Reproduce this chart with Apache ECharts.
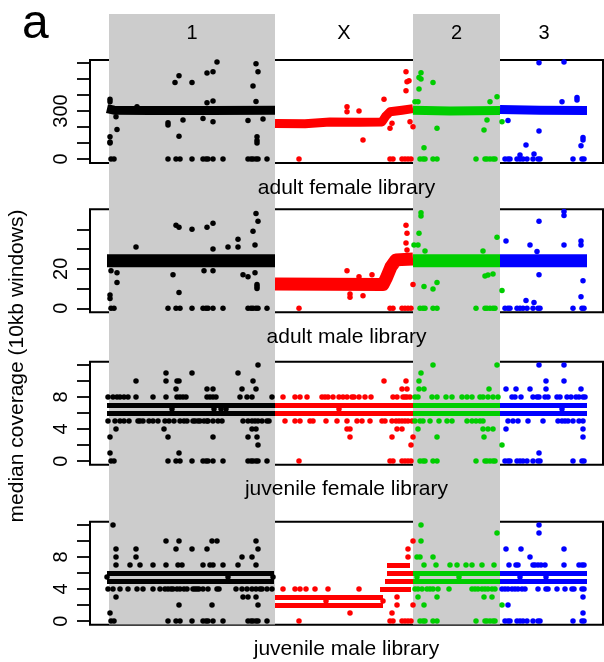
<!DOCTYPE html>
<html>
<head>
<meta charset="utf-8">
<script src="https://cdn.jsdelivr.net/npm/echarts@6/dist/echarts.min.js"></script>
<style>
html, body { margin: 0; padding: 0; background: #fff; }
#chart { width: 604px; height: 662px; }
</style>
</head>
<body>
<div id="chart"></div>
<script>
// chromosomes along the concatenated genome (window index)
var chromNames = ['1', 'X', '2', '3'];
var chromStart = [19, 185, 323, 410];
var chromEnd = [185, 323, 410, 498];
var chromShaded = [true, false, true, false];

var libraries = ['adult female library', 'adult male library', 'juvenile female library', 'juvenile male library'];
var yMin = [-25, -2.03, -0.45, -0.45];
var yMax = [619, 50.1, 12.41, 12.41];
var yTicks = [[0, 100, 200, 300, 400, 500, 600], [0, 10, 20, 30, 40], [0, 2, 4, 6, 8, 10, 12], [0, 2, 4, 6, 8, 10, 12]];
var yLabels = [[0, 300], [0, 20], [0, 4, 8], [0, 4, 8]];

// windows with zero coverage (same in every library)
var zero1 = [21, 24, 78, 86, 90, 102, 113, 116, 118, 123, 133, 158, 161, 163, 166, 168, 177];
var zeroX = [209, 300, 303, 312, 315, 318, 321];
var zero2 = [330, 333, 335, 343, 347, 386, 395, 397, 400, 403, 405];
var zero3 = [415, 418, 420, 427, 430, 433, 437, 443, 448, 450, 483, 492, 494];

// adult female: bulk band + outliers
var af1Band = [[17, 315], [24, 305], [60, 303], [120, 303], [185, 305]];
var af1Pts = [[20, 373], [20, 358], [20, 139], [20, 106], [20, 100], [27, 185], [26, 264], [47, 327], [85, 479], [89, 520], [102, 479], [117, 537], [123, 545], [127, 606], [166, 596], [168, 545], [163, 456], [166, 360], [117, 352], [123, 362], [78, 227], [78, 212], [89, 142], [93, 244], [113, 254], [123, 233], [158, 240], [167, 139], [167, 116], [167, 100], [173, 250]];
var afXBand = [[185, 222], [215, 220], [240, 232], [270, 230], [292, 232], [296, 270], [300, 295], [312, 305], [323, 315]];
var afXPts = [[316, 545], [317, 483], [316, 427], [319, 490], [294, 373], [257, 327], [257, 296], [269, 300], [273, 119], [300, 192], [302, 223], [320, 233], [323, 202]];
var af2Band = [[323, 305], [360, 300], [410, 303]];
var af2Pts = [[331, 540], [329, 510], [331, 500], [329, 437], [343, 479], [325, 358], [328, 358], [400, 358], [407, 389], [347, 192], [394, 181], [397, 244], [412, 233], [334, 71]];
var af3Band = [[410, 310], [450, 305], [497, 303]];
var af3Pts = [[449, 602], [474, 606], [449, 175], [436, 88], [418, 240], [472, 358], [487, 385], [487, 369], [493, 135], [493, 119], [491, 83], [430, 25], [444, 31]];

// adult male
var am1Band = [[17, 24], [185, 24]];
var am1Pts = [[20, 6.7], [20, 5], [27, 13], [27, 18], [21, 19], [46, 31], [86, 42], [89, 41], [102, 40], [117, 41], [123, 43], [166, 48], [168, 44], [163, 39], [165, 32], [148, 35], [148, 31], [138, 31], [123, 30], [83, 17], [89, 8], [114, 19], [123, 19], [153, 17], [158, 16], [167, 12], [167, 11], [167, 10], [165, 18]];
var amXBand = [[185, 12.3], [293, 12], [296, 15], [301, 21], [306, 24.5], [323, 25]];
var amXPts = [[316, 42], [317, 38], [316, 33], [317, 29.5], [257, 19], [282, 17], [269, 16], [260, 7.2], [260, 5.6], [273, 6.4], [323, 12]];
var am2Band = [[323, 24], [410, 24]];
var am2Pts = [[331, 48.4], [331, 46.7], [329, 38], [324, 32], [328, 32], [335, 29], [407, 36], [393, 29], [334, 11], [343, 9.8], [347, 13], [395, 16.4], [398, 16.9], [403, 17.4], [412, 9]];
var am3Band = [[410, 24], [497, 24]];
var am3Pts = [[474, 49], [474, 47], [449, 44], [416, 34], [440, 32], [474, 32], [491, 34], [491, 32], [449, 17], [493, 14], [491, 5.9], [436, 3.9], [444, 2.9], [447, 28.7]];

// juvenile female: solid rows [from, to, coverage] and [coverage, [windows]]
var jf1Rows = [[17, 185, 7], [17, 185, 6]];
var jf1Levels = [[12, [168]], [11, [76, 102, 148]], [10, [46, 76, 87, 89, 163]], [9, [86, 117, 123, 152, 166]], [8, [18, 23, 27, 30, 34, 38, 46, 63, 76, 87, 90, 93, 96, 117, 120, 123, 126, 150, 157, 162, 182]], [6.5, [82, 124, 131, 136]], [5, [18, 25, 30, 34, 39, 48, 50, 53, 59, 63, 68, 75, 79, 84, 90, 94, 97, 103, 105, 108, 110, 114, 117, 118, 123, 128, 132, 153, 158, 162, 165, 168, 172, 177, 179]], [4, [26, 74, 162, 166]], [3, [20, 78, 123, 158, 167]], [2, [168]], [1, [20, 89]]];
var jfXRows = [[185, 323, 7], [185, 323, 6]];
var jfXLevels = [[10, [294, 316]], [9, [312, 317]], [8, [193, 205, 210, 217, 232, 235, 238, 243, 249, 253, 257, 262, 264, 269, 275, 281, 303, 307, 313, 315, 317, 320]], [6.5, [249]], [5, [195, 205, 210, 220, 223, 236, 247, 257, 267, 272, 280, 292, 295, 302, 306, 309, 312, 315, 318, 322]], [4, [257, 260, 307, 312]], [3, [260, 302, 323]], [2, [321]]];
var jf2Rows = [[323, 410, 7], [323, 410, 6]];
var jf2Levels = [[12, [343, 407]], [11, [331]], [10, [329]], [9, [329, 334, 399]], [8, [325, 328, 342, 347, 356, 362, 372, 377, 382, 390, 393, 398, 403, 408]], [5, [325, 330, 333, 340, 349, 357, 362, 377, 382, 386, 390, 393]], [4, [328, 393, 398, 403]], [3, [347, 394]], [2, [412]]];
var jf3Rows = [[410, 497, 7], [410, 497, 6]];
var jf3Levels = [[12, [449, 474]], [10, [456, 474]], [9, [416, 426, 440, 456, 491]], [8, [422, 425, 431, 443, 447, 449, 455, 458, 467, 470, 477, 481, 486, 489, 493, 495]], [6.5, [472]], [5, [418, 423, 428, 438, 453, 468, 472, 475, 478, 483, 489, 493]], [4, [416, 493]], [3, [493]], [1, [449]]];

// juvenile male
var jm1Rows = [[17, 184, 6], [17, 184, 5]];
var jm1Levels = [[12, [23]], [10, [76, 89, 122, 127, 166]], [9, [26, 46, 86, 102, 117, 168]], [8, [26, 46, 152, 162]], [7, [26, 40, 50, 63, 76, 88, 92, 113, 120, 123, 133, 148, 166]], [5.5, [17, 138, 183]], [4, [18, 23, 30, 38, 47, 53, 63, 70, 75, 78, 81, 83, 87, 90, 94, 97, 103, 105, 107, 109, 113, 118, 127, 129, 146, 152, 157, 162, 166, 170, 172, 177, 182]], [3, [26, 153, 158, 166]], [2, [89, 122, 168]], [1, [20]]];
var jmXRows = [[185, 293, 3], [185, 293, 2], [297, 320, 7], [297, 323, 6], [295, 323, 5], [290, 321, 4]];
var jmXLevels = [[10, [323]], [9, [318]], [8, [318]], [4, [193, 205, 210, 216, 225, 238, 269]], [2.5, [236, 293]], [3, [307]], [2, [307, 323]], [1, [260, 302]]];
var jm2Rows = [[323, 410, 6], [323, 410, 5]];
var jm2Levels = [[12, [331]], [11, [407]], [10, [331]], [8, [327, 330, 343]], [7, [334, 346, 360, 367, 376, 382, 392, 404]], [5.5, [327, 369]], [4, [325, 328, 332, 337, 340, 343, 348, 359, 382, 385, 388, 392, 395, 398, 402, 405]], [3, [328, 347, 394, 402]], [2, [334, 412]]];
var jm3Rows = [[410, 497, 6], [410, 497, 5]];
var jm3Levels = [[12, [449]], [11, [449]], [9, [416, 431, 474]], [8, [440]], [7, [419, 426, 428, 443, 445, 448, 451, 455, 474, 489, 492, 494]], [5.5, [430, 456]], [4, [412, 415, 418, 422, 425, 428, 432, 435, 448, 456, 458, 467, 475, 482, 484, 492, 494]], [3, [493]], [2, [418]], [1, [493]]];

var chromColors = ['#000000', '#ff0000', '#00cd00', '#0000ff'];
var FONT = '"Liberation Sans", Arial, Helvetica, sans-serif';

var zeros = [zero1, zeroX, zero2, zero3];
var bands = [[af1Band, afXBand, af2Band, af3Band], [am1Band, amXBand, am2Band, am3Band]];
var outliers = [[af1Pts, afXPts, af2Pts, af3Pts], [am1Pts, amXPts, am2Pts, am3Pts]];
var rows = [[jf1Rows, jfXRows, jf2Rows, jf3Rows], [jm1Rows, jmXRows, jm2Rows, jm3Rows]];
var levels = [[jf1Levels, jfXLevels, jf2Levels, jf3Levels], [jm1Levels, jmXLevels, jm2Levels, jm3Levels]];
var bandWidth = [9, 13];

function flattenLevels(list) {
    var out = [];
    list.forEach(function (l) {
        l[1].forEach(function (x) {
            out.push([x, l[0]]);
        });
    });
    return out;
}

var gridTops = [60, 209.3, 361.7, 521.7];
var gridH = 103;

var grids = [{left: 90, width: 513, top: 14, height: 610.5}];
var xAxes = [{gridIndex: 0, type: 'value', min: 0, max: 513, show: false}];
var yAxes = [{gridIndex: 0, type: 'value', min: 0, max: 1, show: false}];
var series = [];

// shaded chromosome backgrounds and their names
series.push({
    type: 'scatter',
    xAxisIndex: 0,
    yAxisIndex: 0,
    z: -1,
    silent: true,
    data: [],
    markArea: {
        silent: true,
        label: {show: true, position: 'insideTop', distance: 9, color: '#000', fontSize: 20, fontFamily: FONT},
        data: chromNames.map(function (n, i) {
            return [{
                name: n,
                xAxis: chromStart[i],
                itemStyle: {color: chromShaded[i] ? '#cccccc' : 'rgba(0,0,0,0)'}
            }, {xAxis: chromEnd[i]}];
        })
    }
});

var graphics = [];

for (var p = 0; p < 4; p++) {
    var gi = p + 1;
    grids.push({
        left: 90, width: 513, top: gridTops[p], height: gridH,
        show: true, borderColor: '#000', borderWidth: 2, backgroundColor: 'rgba(0,0,0,0)'
    });
    xAxes.push({gridIndex: gi, type: 'value', min: 0, max: 513, show: false});
    yAxes.push({
        gridIndex: gi, type: 'value', min: yMin[p], max: yMax[p],
        axisLine: {show: false},
        splitLine: {show: false},
        axisTick: {show: true, length: 13, customValues: yTicks[p], lineStyle: {color: '#000', width: 1.8}},
        axisLabel: {show: true, customValues: yLabels[p], rotate: 90, margin: 19, color: '#000', fontSize: 20, fontFamily: FONT}
    });

    for (var c = 0; c < 4; c++) {
        var pts;
        if (p < 2) {
            series.push({
                type: 'line', xAxisIndex: gi, yAxisIndex: gi,
                data: bands[p][c], showSymbol: false, silent: true,
                lineStyle: {color: chromColors[c], width: bandWidth[p], cap: 'butt', join: 'round'}
            });
            pts = outliers[p][c].slice();
        } else {
            series.push({
                type: 'lines', coordinateSystem: 'cartesian2d', xAxisIndex: gi, yAxisIndex: gi,
                silent: true,
                lineStyle: {color: chromColors[c], width: 5, opacity: 1},
                data: rows[p - 2][c].map(function (r) {
                    return {coords: [[r[0], r[2]], [r[1], r[2]]]};
                })
            });
            pts = flattenLevels(levels[p - 2][c]);
        }
        zeros[c].forEach(function (x) {
            pts.push([x, 0]);
        });
        series.push({
            type: 'scatter', xAxisIndex: gi, yAxisIndex: gi,
            data: pts, symbolSize: 5.5, silent: true,
            itemStyle: {color: chromColors[c], opacity: 1}
        });
    }

    // library name under each panel
    graphics.push({
        type: 'text', x: 346.5, y: gridTops[p] + gridH + 25, z: 100,
        style: {text: libraries[p], fontSize: 21, fontFamily: FONT, fill: '#000', textAlign: 'center', textVerticalAlign: 'middle'}
    });
}

graphics.push({
    type: 'text', x: 17, y: 366, rotation: Math.PI / 2, z: 100,
    style: {text: 'median coverage (10kb windows)', fontSize: 21, fontFamily: FONT, fill: '#000', textAlign: 'center', textVerticalAlign: 'middle'}
});
graphics.push({
    type: 'text', x: 22, y: 25, z: 100,
    style: {text: 'a', fontSize: 48, fontFamily: FONT, fill: '#000', textVerticalAlign: 'middle'}
});

var myChart = echarts.init(document.getElementById('chart'));
myChart.setOption({
    animation: false,
    backgroundColor: '#fff',
    grid: grids,
    xAxis: xAxes,
    yAxis: yAxes,
    series: series,
    graphic: graphics
});
</script>
</body>
</html>
